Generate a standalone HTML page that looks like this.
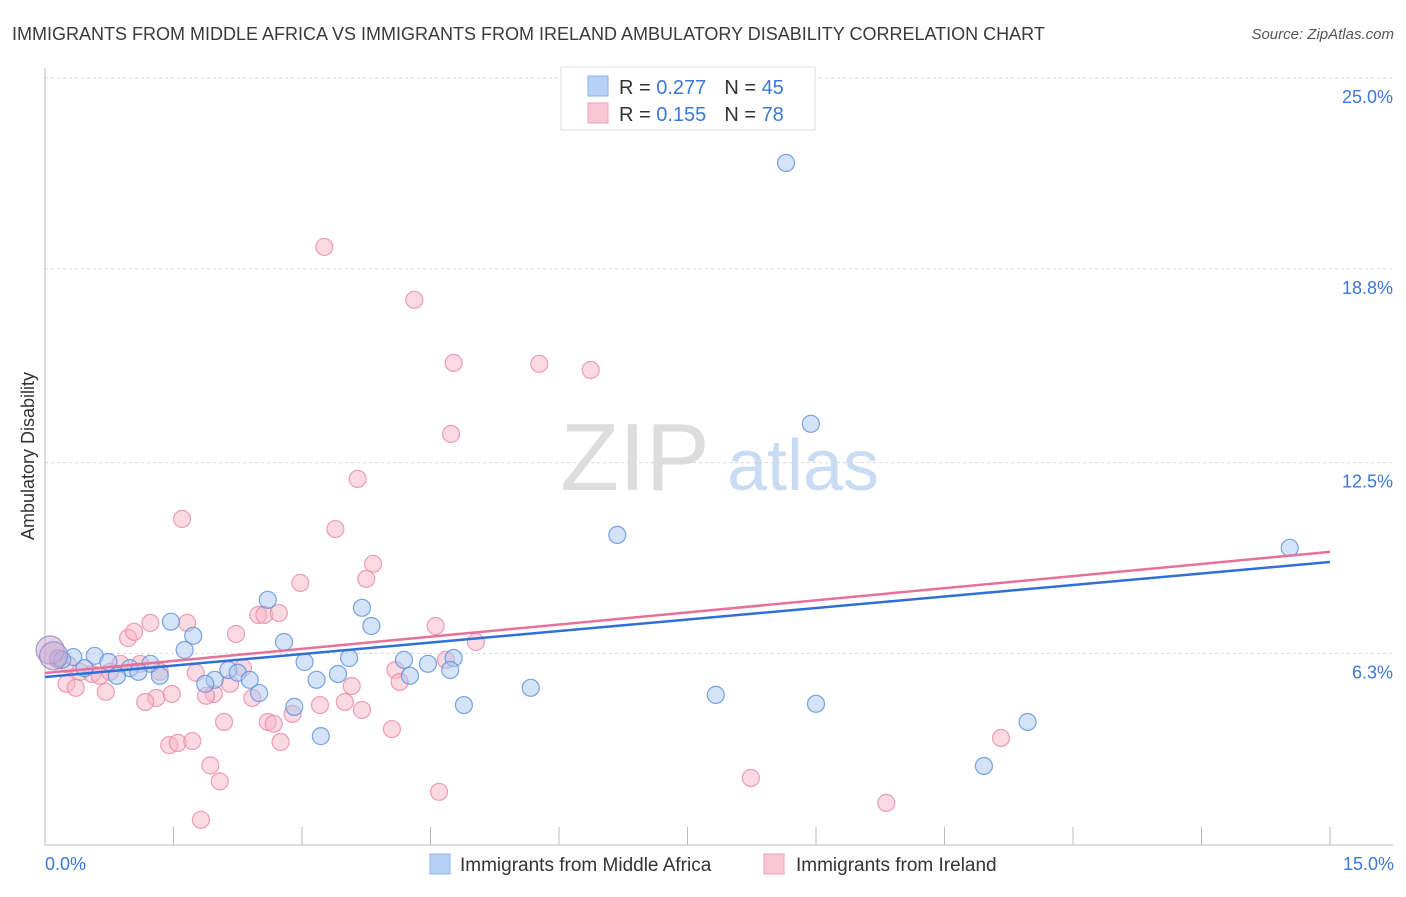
<!DOCTYPE html>
<html><head><meta charset="utf-8"><style>
body{margin:0;background:#fff;font-family:"Liberation Sans",sans-serif}
svg text{font-family:"Liberation Sans",sans-serif}
</style></head><body>
<svg id="chart" width="1406" height="892" xmlns="http://www.w3.org/2000/svg">
<text x="12" y="40" font-size="18" fill="#3a3a3a">IMMIGRANTS FROM MIDDLE AFRICA VS IMMIGRANTS FROM IRELAND AMBULATORY DISABILITY CORRELATION CHART</text>
<text x="1394" y="39" font-size="15" fill="#555" font-style="italic" text-anchor="end">Source: ZipAtlas.com</text>
<g>
<text x="635" y="490" font-size="96" fill="#ddd" font-family="Liberation Serif" text-anchor="middle">ZIP</text>
<text x="803" y="490" font-size="72" fill="#c9dcf3" text-anchor="middle">atlas</text>
</g>
<g id="grid"></g>
<g id="axes"></g>
<g id="marks"></g>
<g id="trends"></g>
<text transform="translate(34,456) rotate(-90)" font-size="18" fill="#333" text-anchor="middle">Ambulatory Disability</text>
<text x="45" y="870" font-size="18" fill="#3b78d8">0.0%</text>
<text x="1394" y="870" font-size="18" fill="#3b78d8" text-anchor="end">15.0%</text>
<g>
<rect x="561" y="67" width="254" height="63" fill="#fff" stroke="#ddd"/>
<rect x="588" y="76" width="20" height="20" fill="#b6d1f4" stroke="#8fb3e6"/>
<rect x="588" y="103" width="20" height="20" fill="#f9c6d5" stroke="#ee9fb8"/>
<text x="619" y="94" font-size="20" fill="#333">R = <tspan fill="#3b78d8">0.277</tspan><tspan dx="18" fill="#333">N = </tspan><tspan fill="#3b78d8">45</tspan></text>
<text x="619" y="121" font-size="20" fill="#333">R = <tspan fill="#3b78d8">0.155</tspan><tspan dx="18" fill="#333">N = </tspan><tspan fill="#3b78d8">78</tspan></text>
</g>
<g>
<rect x="430" y="854" width="20" height="20" fill="#b6d1f4" stroke="#8fb3e6"/>
<text x="460" y="871" font-size="19" fill="#333">Immigrants from Middle Africa</text>
<rect x="764" y="854" width="20" height="20" fill="#f9c6d5" stroke="#ee9fb8"/>
<text x="796" y="871" font-size="19" fill="#333">Immigrants from Ireland</text>
</g>
</svg>
<script>
const yTicks=[25.0,18.8,12.5,6.3];
const yTickLabels=["25.0%","18.8%","12.5%","6.3%"];
const xTicks=[0,1.5,3,4.5,6,7.5,9,10.5,12,13.5,15];
const blueX=[8.65,8.94,6.68,14.53,2.60,3.70,1.47,3.81,1.73,2.79,1.63,0.58,0.33,0.15,0.20,0.74,3.03,3.55,4.19,4.47,4.77,4.73,0.46,0.99,1.23,1.09,0.84,1.34,2.14,2.25,1.98,2.39,1.87,3.17,3.42,4.26,2.50,2.91,5.67,7.83,9.00,4.89,3.22,11.47,10.96];
const blueY=[22.24,13.76,10.15,9.73,8.04,7.78,7.33,7.19,6.87,6.67,6.41,6.22,6.18,6.15,6.09,6.02,6.02,6.15,6.09,5.96,6.15,5.76,5.82,5.82,5.96,5.70,5.57,5.57,5.76,5.67,5.44,5.44,5.31,5.44,5.63,5.57,5.01,4.56,5.18,4.95,4.66,4.62,3.61,4.07,2.64];
const pinkX=[3.26,4.31,4.77,5.77,6.37,4.74,3.65,3.39,1.60,3.83,3.75,2.98,2.49,2.56,2.73,1.66,1.23,2.23,0.97,1.04,4.56,5.03,4.68,4.09,3.58,4.14,0.15,0.27,0.41,0.55,0.64,0.76,0.88,1.11,1.34,1.76,2.31,2.16,0.25,0.36,0.71,1.97,1.88,2.42,1.30,1.17,1.48,3.21,3.50,3.70,2.89,2.09,2.60,2.67,4.05,2.75,1.45,1.55,1.72,1.93,2.04,1.82,4.60,8.24,9.82,11.16];
const pinkY=[19.51,17.79,15.74,15.71,15.51,13.43,11.97,10.34,10.67,9.21,8.72,8.59,7.55,7.55,7.61,7.29,7.29,6.93,6.80,7.00,7.19,6.67,6.09,5.76,5.24,5.37,6.09,5.93,5.70,5.63,5.57,5.70,5.96,5.96,5.70,5.67,5.83,5.31,5.31,5.18,5.05,4.98,4.92,4.85,4.85,4.72,4.98,4.62,4.72,4.46,4.33,4.07,4.07,4.01,3.84,3.42,3.32,3.39,3.45,2.66,2.14,0.89,1.80,2.25,1.44,3.55];
const bigX=[0.06,0.10];
const bigY=[6.41,6.22];
const blueTrend=[5.53,9.27];
const pinkTrend=[5.66,9.60];
const NS="http://www.w3.org/2000/svg";
function sx(v){return 45+v*(1330-45)/15;}
function sy(v){return 78+(25-v)*(192.3/6.25);}
function mk(tag,attrs,parent){const e=document.createElementNS(NS,tag);for(const k in attrs)e.setAttribute(k,attrs[k]);parent.appendChild(e);return e;}
const grid=document.getElementById('grid'),axes=document.getElementById('axes'),marks=document.getElementById('marks'),trends=document.getElementById('trends');
yTicks.forEach((t,i)=>{
 const l=mk('line',{x1:45,x2:1393,y1:sy(t),y2:sy(t),stroke:'#d8d8d8','stroke-dasharray':'3,3'},grid);
 
 
 const tx=mk('text',{x:1393,y:sy(t)+25,'font-size':18,fill:'#3b78d8','text-anchor':'end'},axes);
 tx.textContent=yTickLabels[i];
 
 
});
const ya=mk('line',{x1:45,x2:45,y1:68,y2:845,stroke:'#bbb'},axes);


const xa=mk('line',{x1:45,x2:1393,y1:845,y2:845,stroke:'#bbb'},axes);


xTicks.forEach(t=>{
 const l=mk('line',{x1:sx(t),x2:sx(t),y1:827,y2:845,stroke:'#bbb'},axes);
 
 
});
function pts(X,Y,fill,stroke,name,r){
 X.forEach((x,i)=>{
  const c=mk('circle',{cx:sx(x),cy:sy(Y[i]),r:r,fill:fill,'fill-opacity':0.5,stroke:stroke,'stroke-opacity':0.8,'stroke-width':1.2},marks);
  
  
 });
}
pts(pinkX,pinkY,'#f6b3c8','#e98aa8','ireland-point',8.5);
pts(blueX,blueY,'#a9c8f0','#5a8fdb','middle-africa-point',8.5);
pts(bigX,bigY,'#c9a8d0','#8e86c8','cluster-point',14);
const bt=mk('line',{x1:sx(0),x2:sx(15),y1:sy(blueTrend[0]),y2:sy(blueTrend[1]),stroke:'#2f6fd6','stroke-width':2.5},trends);


const pt=mk('line',{x1:sx(0),x2:sx(15),y1:sy(pinkTrend[0]),y2:sy(pinkTrend[1]),stroke:'#e8719a','stroke-width':2.5},trends);


</script>
</body></html>
